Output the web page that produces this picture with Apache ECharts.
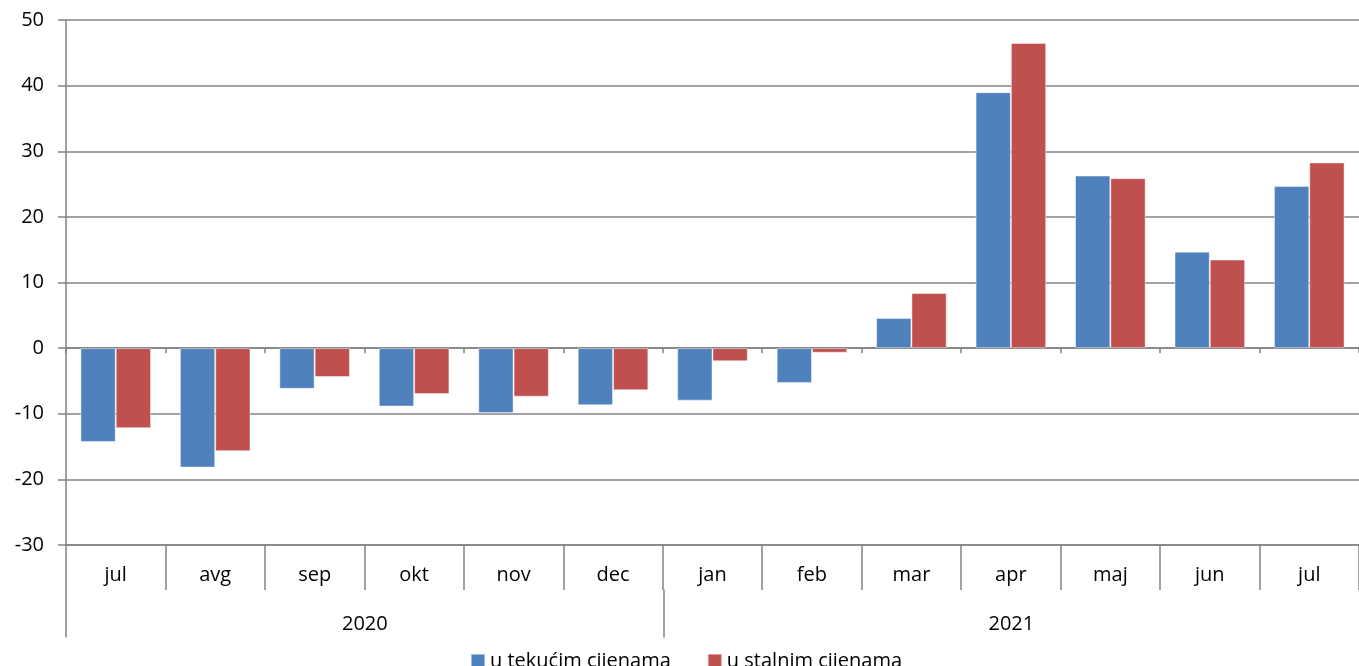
<!DOCTYPE html>
<html>
<head>
<meta charset="utf-8">
<script src="https://cdn.jsdelivr.net/npm/echarts@6/dist/echarts.min.js"></script>
<style>
html,body{margin:0;padding:0;background:#fff;}
#chart{width:1359px;height:666px;}
</style>
</head>
<body>
<div id="chart"></div>
<script>
const months = ['jul','avg','sep','okt','nov','dec','jan','feb','mar','apr','maj','jun','jul'];
const years = ['2020','2021'];
const yearSpans = [6,7];
const seriesNames = ['u tekućim cijenama','u stalnim cijenama'];
const tekuce = [-14.3,-18.2,-6.2,-8.9,-9.9,-8.7,-8.0,-5.3,4.6,39.0,26.3,14.7,24.7];
const stalne = [-12.2,-15.7,-4.4,-7.0,-7.4,-6.4,-2.0,-0.7,8.4,46.5,25.9,13.5,28.3];
const yTicks = {min:-30, max:50, interval:10};

const W = 1359, H = 666;
const plotLeft = 66, plotRight = -2, plotTop = 20, plotBottomY = 545;
const plotW = W - plotLeft - plotRight;
const catW = plotW / months.length;
const gray = '#838383';
const font = '"Open Sans", "Liberation Sans", Arial, sans-serif';
const fs = 20;

const chart = echarts.init(document.getElementById('chart'));

const y1Left = plotLeft + yearSpans[0]*catW;
const option = {
  animation:false,
  textStyle:{fontFamily:font},
  grid:[
    {left:plotLeft, right:plotRight, top:plotTop, bottom:H-plotBottomY, containLabel:false},
    {left:plotLeft, width:yearSpans[0]*catW, top:590, height:47},
    {left:y1Left, width:yearSpans[1]*catW + 12, top:590, height:47}
  ],
  legend:{
    data:seriesNames, left:465, top:646, itemWidth:14, itemHeight:14, itemGap:36,
    icon:'rect', textStyle:{fontSize:fs, color:'#000', fontFamily:font}
  },
  xAxis:[
    {type:'category', gridIndex:0, data:months, position:'bottom',
     axisLine:{onZero:false, lineStyle:{color:gray, width:1.5}},
     axisTick:{show:true, length:45, interval:0, lineStyle:{color:gray, width:1.5}},
     axisLabel:{show:true, interval:0, margin:20, fontSize:fs, color:'#000', fontFamily:font},
     splitLine:{show:false}},
    {type:'category', gridIndex:0, data:months, position:'top',
     axisLine:{onZero:true, lineStyle:{color:gray, width:1.5}},
     axisTick:{show:true, inside:true, length:5, interval:0, lineStyle:{color:gray, width:1.5}},
     axisLabel:{show:false}, splitLine:{show:false}},
    {type:'category', gridIndex:1, data:[years[0]], position:'bottom',
     axisLine:{show:false}, axisTick:{show:false},
     axisLabel:{show:true, inside:true, margin:3, fontSize:fs, color:'#000', fontFamily:font}},
    {type:'category', gridIndex:2, data:[years[1]], position:'bottom',
     axisLine:{show:false}, axisTick:{show:false},
     axisLabel:{show:true, inside:true, margin:3, fontSize:fs, color:'#000', fontFamily:font}}
  ],
  yAxis:[
    {type:'value', gridIndex:0, min:yTicks.min, max:yTicks.max, interval:yTicks.interval,
     axisLine:{show:true, lineStyle:{color:gray, width:1.5}},
     axisTick:{show:true, length:8, lineStyle:{color:gray, width:1.5}},
     axisLabel:{fontSize:fs, color:'#000', margin:22, fontFamily:font},
     splitLine:{show:true, lineStyle:{color:gray, width:1.5}}},
    {type:'value', gridIndex:1, min:0, max:1, axisLine:{show:true, lineStyle:{color:gray, width:1.5}},
     axisTick:{show:false}, axisLabel:{show:false}, splitLine:{show:false}},
    {type:'value', gridIndex:2, min:0, max:1, axisLine:{show:true, lineStyle:{color:gray, width:1.5}},
     axisTick:{show:false}, axisLabel:{show:false}, splitLine:{show:false}}
  ],
  series:[
    {name:seriesNames[0], type:'bar', xAxisIndex:0, yAxisIndex:0, data:tekuce,
     barGap:'0%', barCategoryGap:'29%',
     itemStyle:{color:'#4F81BD', borderColor:'rgba(255,255,255,0.45)', borderWidth:1}},
    {name:seriesNames[1], type:'bar', xAxisIndex:0, yAxisIndex:0, data:stalne,
     barGap:'0%', barCategoryGap:'29%',
     itemStyle:{color:'#C0504D', borderColor:'rgba(255,255,255,0.45)', borderWidth:1}}
  ]
};
chart.setOption(option);
</script>
</body>
</html>
